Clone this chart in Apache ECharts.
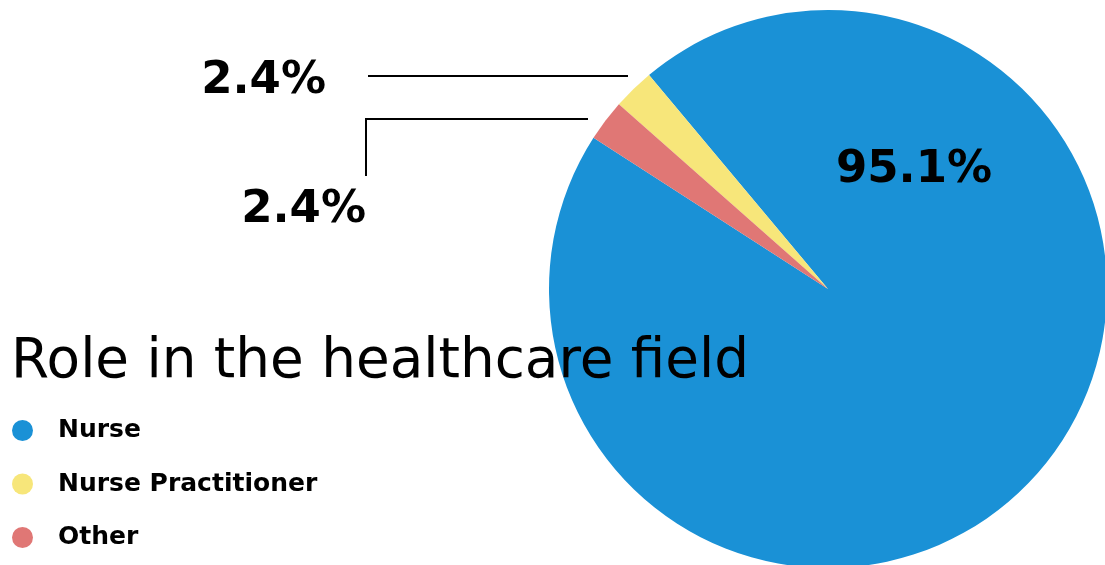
<!DOCTYPE html>
<html>
<head>
<meta charset="utf-8">
<title>Role in the healthcare field</title>
<script src="https://cdn.jsdelivr.net/npm/echarts@6/dist/echarts.min.js"></script>
<style>
  html, body { margin: 0; padding: 0; background: #ffffff; }
  #chart { width: 1105px; height: 565px; }
</style>
</head>
<body>
<div id="chart"></div>
<script>
// Survey: role of respondents in the healthcare field (percent)
const roles = ['Nurse', 'Nurse Practitioner', 'Other'];
const shares = [95.1, 2.4, 2.4];
const roleColors = ['#1a91d6', '#f7e67a', '#e07775'];

// Pie geometry
const CX = 828, CY = 289, R = 279;
const FONT = '"DejaVu Sans", sans-serif';

// Label placement per slice: label anchor and leader line path
const labelPlacement = [
  { x: CX + 86, y: CY - 119, align: 'center', line: null },
  { x: 326, y: 81, align: 'right', line: [[628, 76], [500, 76], [368, 76]] },
  { x: 366, y: 210, align: 'right', line: [[588, 119], [366, 119], [366, 176]] }
];

const chart = echarts.init(document.getElementById('chart'), null, { renderer: 'canvas' });

chart.setOption({
  backgroundColor: '#ffffff',
  animation: false,
  title: {
    text: 'Role in the healthcare field',
    left: 11,
    top: 335,
    padding: 0,
    textStyle: {
      fontFamily: FONT,
      fontWeight: 'normal',
      fontSize: 54.8,
      color: '#000000'
    }
  },
  legend: {
    orient: 'vertical',
    left: 12,
    top: 418,
    padding: 0,
    icon: 'circle',
    itemWidth: 21,
    itemHeight: 21,
    itemGap: 28.5,
    selectedMode: false,
    data: roles,
    textStyle: {
      fontFamily: FONT,
      fontWeight: 'bold',
      fontSize: 25,
      color: '#000000',
      padding: [0, 0, 0, 20]
    }
  },
  series: [{
    type: 'pie',
    center: [CX, CY],
    radius: R,
    startAngle: 147.2,
    clockwise: false,
    silent: true,
    avoidLabelOverlap: false,
    data: roles.map((name, i) => ({
      name: name,
      value: shares[i],
      itemStyle: { color: roleColors[i] },
      label: { position: i === 0 ? 'inside' : 'outside' },
      labelLine: { show: i !== 0 }
    })),
    label: {
      show: true,
      formatter: p => p.value.toFixed(1) + '%',
      fontFamily: FONT,
      fontWeight: 'bold',
      fontSize: 45,
      color: '#000000'
    },
    labelLine: {
      show: true,
      lineStyle: { color: '#000000', width: 2 }
    },
    labelLayout: function (params) {
      const p = labelPlacement[params.dataIndex];
      const out = { x: p.x, y: p.y, align: p.align, verticalAlign: 'middle' };
      if (p.line) out.labelLinePoints = p.line;
      return out;
    }
  }]
});
</script>
</body>
</html>
